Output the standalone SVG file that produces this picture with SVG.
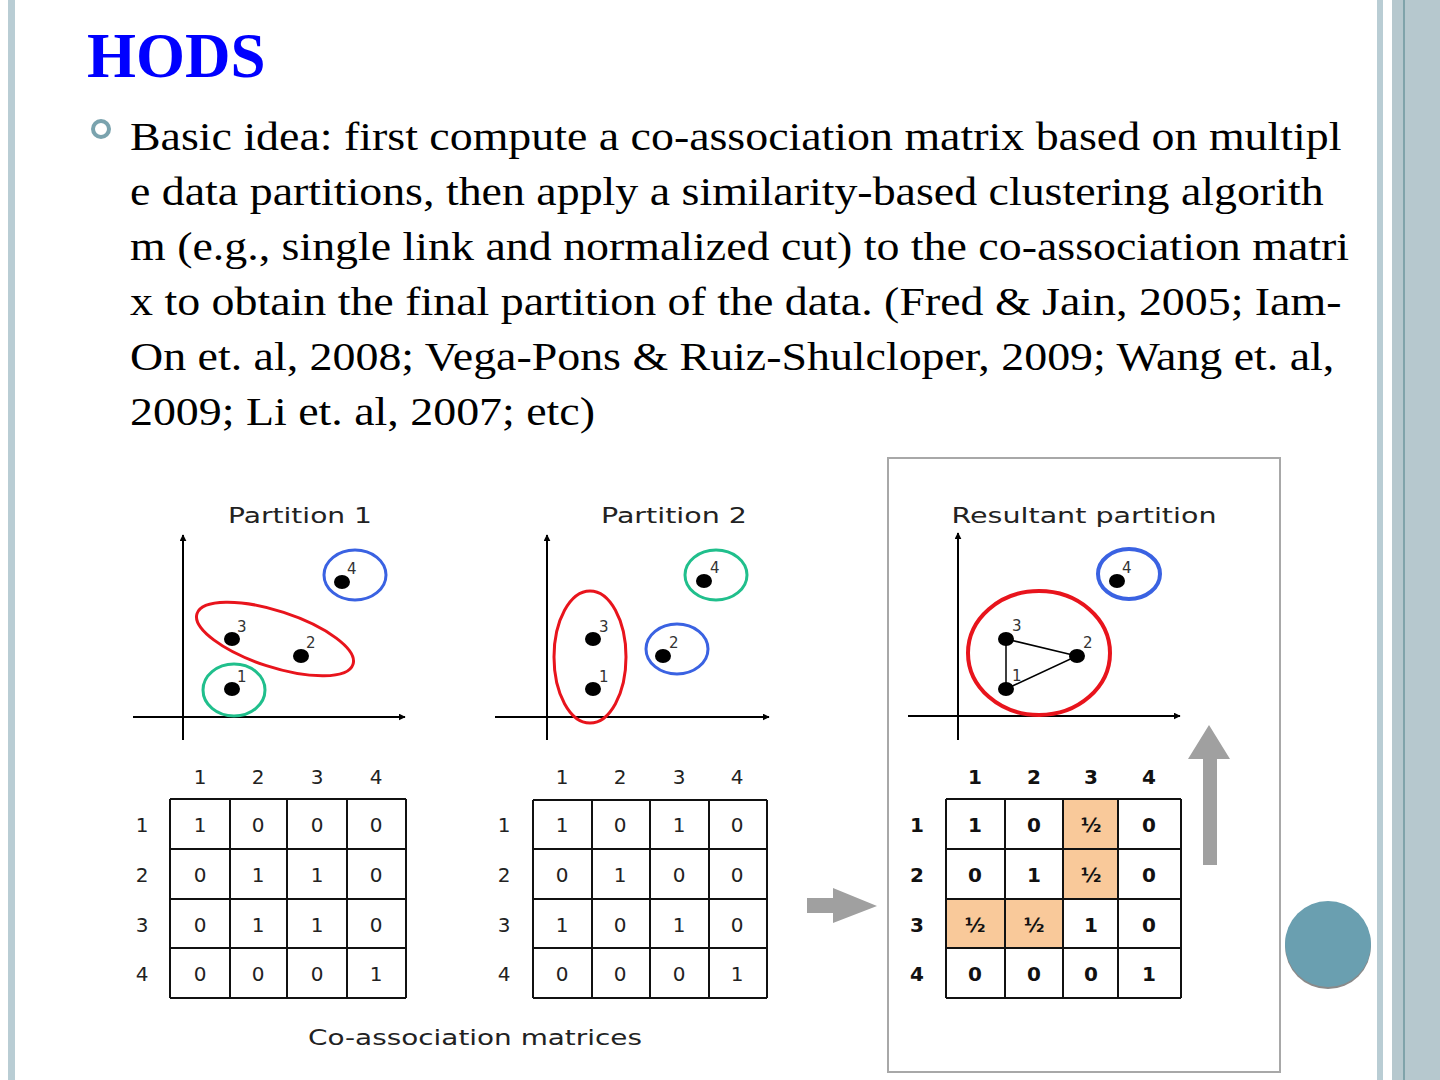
<svg xmlns="http://www.w3.org/2000/svg" width="1440" height="1080" viewBox="0 0 1440 1080">
<style>
.body{font-family:"Liberation Serif",serif;font-size:40px;fill:#000}
.sans{font-family:"DejaVu Sans","Liberation Sans",sans-serif;fill:#222}
.ttl{font-size:22px}
.lbl{font-size:15px;fill:#333}
.mx{font-size:20px;text-anchor:middle}
.mxb{font-size:20px;text-anchor:middle;font-weight:bold;fill:#111}
.ax{stroke:#000;stroke-width:2;fill:none}
.grid{stroke:#111;stroke-width:2;fill:none}
.dot{fill:#000}
</style>
<defs>
<marker id="ah" viewBox="0 0 10 10" refX="9" refY="5" markerWidth="7" markerHeight="7" markerUnits="userSpaceOnUse" orient="auto">
<path d="M0,0 L10,5 L0,10 z" fill="#000"/>
</marker>
</defs>
<rect width="1440" height="1080" fill="#fff"/>
<!-- frame -->
<rect x="8" y="0" width="7" height="1080" fill="#b9cdd4"/>
<rect x="1377" y="0" width="6" height="1080" fill="#b9cdd4"/>
<rect x="1392" y="0" width="48" height="1080" fill="#b6c8ce"/>
<rect x="1403" y="0" width="2" height="1080" fill="#7fa3aa"/>
<!-- title -->
<text x="87" y="77" font-family="Liberation Serif,serif" font-weight="bold" font-size="63" fill="#0000ff">HODS</text>
<!-- bullet -->
<circle cx="101" cy="129" r="8" fill="none" stroke="#7aa3ae" stroke-width="4"/>
<g class="body" transform="translate(130 0) scale(1.147 1)">
<text x="0" y="150" class="body">Basic idea: first compute a co-association matrix based on multipl</text>
<text x="0" y="205" class="body">e data partitions, then apply a similarity-based clustering algorith</text>
<text x="0" y="260" class="body">m (e.g., single link and normalized cut) to the co-association matri</text>
<text x="0" y="315" class="body">x to obtain the final partition of the data. (Fred &amp; Jain, 2005; Iam-</text>
<text x="0" y="370" class="body">On et. al, 2008; Vega-Pons &amp; Ruiz-Shulcloper, 2009; Wang et. al,</text>
<text x="0" y="425" class="body">2009; Li et. al, 2007; etc)</text>
</g>
<!-- result box -->
<rect x="888" y="458" width="392" height="614" fill="none" stroke="#a8a8a8" stroke-width="2"/>

<!-- Partition 1 -->
<g id="partition1">
<text class="sans ttl" x="300" y="523" text-anchor="middle" textLength="144" lengthAdjust="spacingAndGlyphs">Partition 1</text>
<line class="ax" x1="183" y1="740" x2="183" y2="535" marker-end="url(#ah)"/>
<line class="ax" x1="133" y1="717" x2="405" y2="717" marker-end="url(#ah)"/>
<ellipse cx="275" cy="639" rx="82" ry="28" transform="rotate(18 275 639)" fill="none" stroke="#e8141c" stroke-width="3"/>
<ellipse cx="234" cy="690" rx="31" ry="26" fill="none" stroke="#20bf8c" stroke-width="3"/>
<ellipse cx="355" cy="575" rx="31" ry="25" fill="none" stroke="#3a62e2" stroke-width="3"/>
<ellipse class="dot" cx="232" cy="689" rx="8" ry="7"/>
<ellipse class="dot" cx="232" cy="639" rx="8" ry="7"/>
<ellipse class="dot" cx="301" cy="656" rx="8" ry="7"/>
<ellipse class="dot" cx="342" cy="582" rx="8" ry="7"/>
<text class="sans lbl" x="237" y="682">1</text>
<text class="sans lbl" x="237" y="632">3</text>
<text class="sans lbl" x="306" y="648">2</text>
<text class="sans lbl" x="347" y="574">4</text>
</g>

<!-- Partition 2 -->
<g id="partition2">
<text class="sans ttl" x="674" y="523" text-anchor="middle" textLength="146" lengthAdjust="spacingAndGlyphs">Partition 2</text>
<line class="ax" x1="547" y1="740" x2="547" y2="535" marker-end="url(#ah)"/>
<line class="ax" x1="495" y1="717" x2="769" y2="717" marker-end="url(#ah)"/>
<ellipse cx="590" cy="657" rx="36" ry="66" fill="none" stroke="#e8141c" stroke-width="3"/>
<ellipse cx="677" cy="649" rx="31" ry="25" fill="none" stroke="#3a62e2" stroke-width="3"/>
<ellipse cx="716" cy="575" rx="31" ry="25" fill="none" stroke="#20bf8c" stroke-width="3"/>
<ellipse class="dot" cx="593" cy="689" rx="8" ry="7"/>
<ellipse class="dot" cx="593" cy="639" rx="8" ry="7"/>
<ellipse class="dot" cx="663" cy="656" rx="8" ry="7"/>
<ellipse class="dot" cx="704" cy="581" rx="8" ry="7"/>
<text class="sans lbl" x="599" y="682">1</text>
<text class="sans lbl" x="599" y="632">3</text>
<text class="sans lbl" x="669" y="648">2</text>
<text class="sans lbl" x="710" y="573">4</text>
</g>

<!-- Resultant -->
<g id="resultant">
<text class="sans ttl" x="1084" y="523" text-anchor="middle" textLength="265" lengthAdjust="spacingAndGlyphs">Resultant partition</text>
<line class="ax" x1="958" y1="740" x2="958" y2="533" marker-end="url(#ah)"/>
<line class="ax" x1="908" y1="716" x2="1180" y2="716" marker-end="url(#ah)"/>
<ellipse cx="1039" cy="653" rx="71" ry="62" fill="none" stroke="#e8141c" stroke-width="4"/>
<ellipse cx="1129" cy="574" rx="31" ry="25" fill="none" stroke="#3a62e2" stroke-width="4"/>
<polyline points="1006,689 1006,639 1077,656 1006,689" fill="none" stroke="#000" stroke-width="1.5"/>
<ellipse class="dot" cx="1006" cy="689" rx="8" ry="7"/>
<ellipse class="dot" cx="1006" cy="639" rx="8" ry="7"/>
<ellipse class="dot" cx="1077" cy="656" rx="8" ry="7"/>
<ellipse class="dot" cx="1117" cy="581" rx="8" ry="7"/>
<text class="sans lbl" x="1012" y="681">1</text>
<text class="sans lbl" x="1012" y="631">3</text>
<text class="sans lbl" x="1083" y="648">2</text>
<text class="sans lbl" x="1122" y="573">4</text>
</g>

<!-- Matrix 1 -->
<g id="matrix1" class="sans">
<path class="grid" d="M170,799H406M170,849H406M170,899H406M170,948H406M170,998H406M170,799V998M230,799V998M287,799V998M347,799V998M406,799V998"/>
<text class="mx" x="200" y="784">1</text><text class="mx" x="258" y="784">2</text><text class="mx" x="317" y="784">3</text><text class="mx" x="376" y="784">4</text>
<text class="mx" x="142" y="832">1</text><text class="mx" x="142" y="882">2</text><text class="mx" x="142" y="932">3</text><text class="mx" x="142" y="981">4</text>
<text class="mx" x="200" y="832">1</text><text class="mx" x="258" y="832">0</text><text class="mx" x="317" y="832">0</text><text class="mx" x="376" y="832">0</text>
<text class="mx" x="200" y="882">0</text><text class="mx" x="258" y="882">1</text><text class="mx" x="317" y="882">1</text><text class="mx" x="376" y="882">0</text>
<text class="mx" x="200" y="932">0</text><text class="mx" x="258" y="932">1</text><text class="mx" x="317" y="932">1</text><text class="mx" x="376" y="932">0</text>
<text class="mx" x="200" y="981">0</text><text class="mx" x="258" y="981">0</text><text class="mx" x="317" y="981">0</text><text class="mx" x="376" y="981">1</text>
</g>

<!-- Matrix 2 -->
<g id="matrix2" class="sans">
<path class="grid" d="M533,800H767M533,849H767M533,899H767M533,948H767M533,998H767M533,800V998M592,800V998M650,800V998M709,800V998M767,800V998"/>
<text class="mx" x="562" y="784">1</text><text class="mx" x="620" y="784">2</text><text class="mx" x="679" y="784">3</text><text class="mx" x="737" y="784">4</text>
<text class="mx" x="504" y="832">1</text><text class="mx" x="504" y="882">2</text><text class="mx" x="504" y="932">3</text><text class="mx" x="504" y="981">4</text>
<text class="mx" x="562" y="832">1</text><text class="mx" x="620" y="832">0</text><text class="mx" x="679" y="832">1</text><text class="mx" x="737" y="832">0</text>
<text class="mx" x="562" y="882">0</text><text class="mx" x="620" y="882">1</text><text class="mx" x="679" y="882">0</text><text class="mx" x="737" y="882">0</text>
<text class="mx" x="562" y="932">1</text><text class="mx" x="620" y="932">0</text><text class="mx" x="679" y="932">1</text><text class="mx" x="737" y="932">0</text>
<text class="mx" x="562" y="981">0</text><text class="mx" x="620" y="981">0</text><text class="mx" x="679" y="981">0</text><text class="mx" x="737" y="981">1</text>
</g>

<text class="sans" x="475" y="1045" font-size="22" text-anchor="middle" textLength="334" lengthAdjust="spacingAndGlyphs">Co-association matrices</text>

<!-- Matrix 3 -->
<g id="matrix3" class="sans">
<rect x="1063" y="799" width="55" height="100" fill="#f9c99a"/>
<rect x="946" y="899" width="117" height="49" fill="#f9c99a"/>
<path class="grid" d="M946,799H1181M946,849H1181M946,899H1181M946,948H1181M946,998H1181M946,799V998M1005,799V998M1063,799V998M1118,799V998M1181,799V998"/>
<text class="mxb" x="975" y="784">1</text><text class="mxb" x="1034" y="784">2</text><text class="mxb" x="1091" y="784">3</text><text class="mxb" x="1149" y="784">4</text>
<text class="mxb" x="917" y="832">1</text><text class="mxb" x="917" y="882">2</text><text class="mxb" x="917" y="932">3</text><text class="mxb" x="917" y="981">4</text>
<text class="mxb" x="975" y="832">1</text><text class="mxb" x="1034" y="832">0</text><text class="mxb" x="1091" y="832">½</text><text class="mxb" x="1149" y="832">0</text>
<text class="mxb" x="975" y="882">0</text><text class="mxb" x="1034" y="882">1</text><text class="mxb" x="1091" y="882">½</text><text class="mxb" x="1149" y="882">0</text>
<text class="mxb" x="975" y="932">½</text><text class="mxb" x="1034" y="932">½</text><text class="mxb" x="1091" y="932">1</text><text class="mxb" x="1149" y="932">0</text>
<text class="mxb" x="975" y="981">0</text><text class="mxb" x="1034" y="981">0</text><text class="mxb" x="1091" y="981">0</text><text class="mxb" x="1149" y="981">1</text>
</g>

<!-- gray arrows -->
<g id="arrows">
<path d="M807,898 H833 V888 L877,906 L833,923 V913 H807 z" fill="#a0a0a0"/>
<path d="M1203,865 V759 H1188 L1209,725 L1230,759 H1217 V865 z" fill="#a0a0a0"/>
</g>

<!-- corner circle -->
<circle cx="1328" cy="946" r="43" fill="#8a8a8a"/>
<circle cx="1328" cy="944" r="43" fill="#6a9fb0"/>
</svg>
